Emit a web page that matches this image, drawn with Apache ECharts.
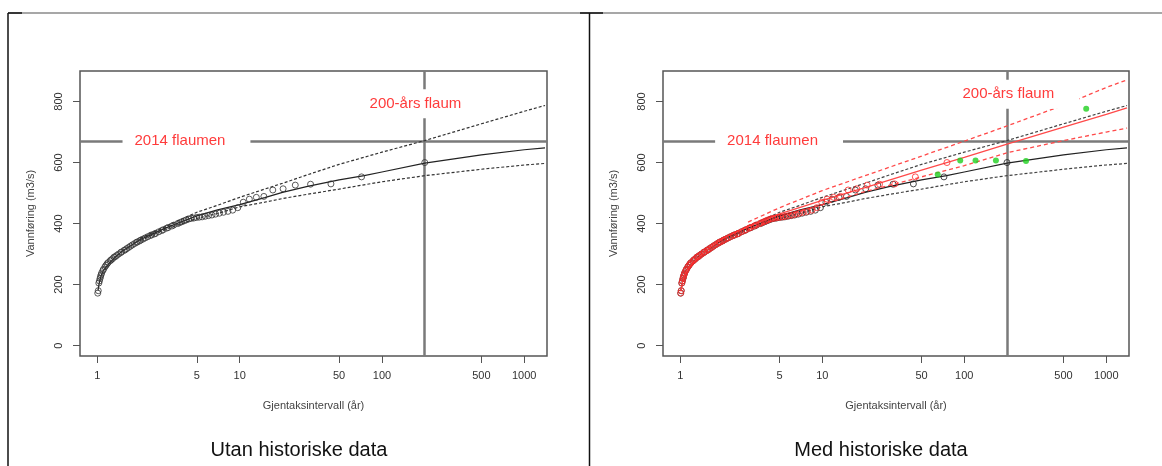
<!DOCTYPE html>
<html>
<head>
<meta charset="utf-8">
<script src="https://cdn.jsdelivr.net/npm/echarts@6/dist/echarts.min.js"></script>
<style>
html,body{margin:0;padding:0;background:#fff;}
#chart{width:1162px;height:466px;}
</style>
</head>
<body>
<div id="chart"></div>
<script>
// ---------- DATA ----------
// Return period ticks (years)
const X_TICKS = [1, 5, 10, 50, 100, 500, 1000];
const Y_TICKS = [0, 200, 400, 600, 800];

// Systematic annual maxima: return period (years) and discharge (m3/s)
const T_SYS = [200, 71.9, 43.8, 31.5, 24.6, 20.2, 17.1, 14.8, 13.1, 11.7, 10.6, 9.70, 8.93, 8.27, 7.70, 7.21, 6.78, 6.39, 6.04, 5.73, 5.20, 4.76, 4.39, 4.07, 3.79, 3.44, 3.15, 2.83, 2.57, 2.36, 2.17, 2.02, 1.88, 1.76, 1.66, 1.57, 1.48, 1.41, 1.34, 1.28, 1.23, 1.17, 1.13, 1.093, 1.062, 1.044, 1.024, 1.015, 1.006,
  5.45, 4.98, 4.57, 4.22, 3.93, 3.67, 3.34, 3.07, 2.91, 2.70, 2.52, 2.41, 2.26, 2.09, 1.98, 1.91, 1.82, 1.71, 1.61, 1.54, 1.46, 1.37, 1.31, 1.25, 1.19, 1.15, 1.104, 1.072, 1.052, 1.034];
const Q_SYS = [600, 553, 530, 529, 526, 514, 510, 489, 486, 480, 470, 452, 444, 440, 437, 434, 431, 428, 426, 424, 421, 418, 415, 409, 403, 395, 387, 377, 368, 361, 353, 346, 338, 330, 322, 314, 307, 300, 292, 285, 278, 268, 258, 246, 232, 220, 205, 180, 172,
  422, 420, 417, 412, 406, 400, 392, 385, 380, 373, 366, 363, 357, 349, 343, 340, 334, 326, 318, 312, 305, 296, 290, 281, 272, 263, 250, 238, 226, 212];
// Same floods, plotting positions when historical information is included
const T_SYS_H = [75.5, 45.2, 32.4, 25.3, 20.7, 17.5, 15.2, 13.4, 12.0, 10.8, 9.91, 9.13, 8.45, 7.87, 7.36, 6.92, 6.54, 6.18, 5.86, 5.57, 5.08, 4.66, 4.32, 4.01, 3.74, 3.41, 3.13, 2.82, 2.57, 2.36, 2.17, 2.02, 1.88, 1.76, 1.66, 1.57, 1.48, 1.41, 1.34, 1.28, 1.23, 1.17, 1.13, 1.093, 1.062, 1.044, 1.024, 1.015, 1.006,
  5.31, 4.87, 4.49, 4.15, 3.88, 3.63, 3.31, 3.05, 2.90, 2.69, 2.52, 2.41, 2.26, 2.09, 1.98, 1.91, 1.82, 1.71, 1.61, 1.54, 1.46, 1.37, 1.31, 1.25, 1.19, 1.15, 1.104, 1.072, 1.052, 1.034];
// Historical floods
const T_HIST = [65, 93.6, 120, 167, 272, 722];
const Q_HIST = [561, 607, 607, 607, 605, 776];

// Fitted curve without historical data (solid) and confidence limits (dotted)
const T_FIT = [1.01, 1.03, 1.06, 1.1, 1.2, 1.35, 1.5, 1.75, 2, 2.5, 3, 4, 5, 7, 10, 15, 20, 30, 50, 75, 100, 200, 500, 1000, 1400];
const Q_FIT = [180, 205, 228, 245, 268, 292, 310, 330, 348, 368, 385, 408, 425, 445, 462, 485, 502, 522, 543, 557, 569, 598, 625, 642, 648];
const T_CI = [2, 3, 5, 7, 10, 15, 20, 30, 50, 100, 200, 500, 1000, 1400];
const Q_UPPER = [352, 390, 437, 460, 486, 513, 532, 560, 594, 634, 672, 727, 768, 787];
const Q_LOWER = [344, 381, 417, 433, 455, 470, 482, 496, 513, 537, 557, 578, 592, 597];

// Fitted curve with historical data (red)
const T_FIT_H = [1.01, 1.03, 1.06, 1.1, 1.2, 1.5, 2, 3, 5, 10, 20, 50, 100, 200, 500, 1000, 1400];
const Q_FIT_H = [178, 203, 226, 243, 267, 310, 352, 390, 432, 476, 518, 575, 617, 660, 716, 758, 779];
const T_CI_H = [3, 5, 10, 20, 50, 100, 200, 500, 1000, 1400];
const Q_UPPER_H = [405, 452, 508, 557, 621, 670, 720, 788, 846, 871];
const Q_LOWER_H = [380, 420, 462, 505, 553, 590, 632, 672, 700, 713];

// Reference values
const FLOOD_2014 = 671;
const T_200 = 200;

// Annotation anchors (return period, discharge) for each panel
const ANNOT_LEFT = [[4.23, 671, '2014 flaumen'], [191, 793, '200-års flaum']];
const ANNOT_RIGHT = [[4.96, 671, '2014 flaumen'], [227, 824, '200-års flaum']];

const CAPTIONS = ['Utan historiske data', 'Med historiske data'];
const X_NAME = 'Gjentaksintervall (år)';
const Y_NAME = 'Vannføring (m3/s)';

// ---------- CHART ----------
const lg = v => Math.log10(v);
const pairs = (T, Q) => T.map((t, i) => [lg(t), Q[i]]);
const FONT = 'Arial, "Liberation Sans", sans-serif';
const RED = '#ff2b2b';

function xAxisFor(gi) {
  return {
    gridIndex: gi, type: 'value', min: -0.122, max: 3.16,
    axisLine: {show: false, onZero: false}, splitLine: {show: false},
    axisTick: {show: true, inside: false, length: 7, customValues: X_TICKS.map(lg), lineStyle: {color: '#555', width: 1}},
    axisLabel: {customValues: X_TICKS.map(lg), formatter: v => String(Math.round(Math.pow(10, v))),
      margin: 14, fontSize: 11, color: '#333', fontFamily: FONT},
    name: X_NAME, nameLocation: 'middle', nameGap: 44,
    nameTextStyle: {fontSize: 11, color: '#444', fontFamily: FONT}
  };
}
function yAxisFor(gi) {
  return {
    gridIndex: gi, type: 'value', min: -34, max: 900,
    axisLine: {show: false, onZero: false}, splitLine: {show: false},
    axisTick: {show: true, inside: false, length: 7, customValues: Y_TICKS, lineStyle: {color: '#555', width: 1}},
    axisLabel: {customValues: Y_TICKS, rotate: 90, margin: 16, fontSize: 11, color: '#333', fontFamily: FONT},
    name: Y_NAME, nameLocation: 'middle', nameGap: 44,
    nameTextStyle: {fontSize: 11, color: '#444', fontFamily: FONT}
  };
}
function lineSeries(gi, data, color, type, width, z) {
  return {type: 'line', xAxisIndex: gi, yAxisIndex: gi, data: data, showSymbol: false, symbol: 'none',
    silent: true, z: z || 3, lineStyle: {color: color, width: width, type: type}, animation: false};
}
function refSeries(gi) {
  return {type: 'line', xAxisIndex: gi, yAxisIndex: gi, data: [], silent: true, z: 2, animation: false,
    markLine: {symbol: 'none', silent: true, animation: false, z: 2, label: {show: false},
      lineStyle: {color: '#7a7a7a', width: 2.5, type: 'solid'},
      data: [{yAxis: FLOOD_2014}, {xAxis: lg(T_200)}]}};
}
function pointSeries(gi, data, stroke, fill, size, z) {
  return {type: 'scatter', xAxisIndex: gi, yAxisIndex: gi, data: data, symbol: 'circle', symbolSize: size,
    silent: true, z: z || 4, animation: false,
    itemStyle: {color: fill, borderColor: stroke, borderWidth: fill === 'rgba(0,0,0,0)' ? 1 : 0}};
}

const HOLLOW = 'rgba(0,0,0,0)';
const series = [
  // Left panel
  refSeries(0),
  lineSeries(0, pairs(T_FIT, Q_FIT), '#222', 'solid', 1.2),
  lineSeries(0, pairs(T_CI, Q_UPPER), '#333', [3, 2], 1.2),
  lineSeries(0, pairs(T_CI, Q_LOWER), '#333', [3, 2], 1.2),
  pointSeries(0, pairs(T_SYS, Q_SYS), '#333', HOLLOW, 6),
  // Right panel
  refSeries(1),
  lineSeries(1, pairs(T_FIT, Q_FIT), '#222', 'solid', 1.2),
  lineSeries(1, pairs(T_CI, Q_UPPER), '#444', [3, 2], 1.2),
  lineSeries(1, pairs(T_CI, Q_LOWER), '#444', [3, 2], 1.2),
  pointSeries(1, pairs(T_SYS, Q_SYS), '#222', HOLLOW, 6),
  lineSeries(1, pairs(T_FIT_H, Q_FIT_H), '#ff4a4a', 'solid', 1.3, 5),
  lineSeries(1, pairs(T_CI_H, Q_UPPER_H), '#ff4a4a', [4, 3], 1.3, 5),
  lineSeries(1, pairs(T_CI_H, Q_LOWER_H), '#ff4a4a', [4, 3], 1.3, 5),
  pointSeries(1, pairs(T_SYS_H, Q_SYS), RED, HOLLOW, 6, 6),
  pointSeries(1, pairs(T_HIST, Q_HIST), '#1fcf1f', '#1fcf1f', 6, 7)
];

const frame = [
  {type: 'line', shape: {x1: 8, y1: 13, x2: 1162, y2: 13}, style: {stroke: '#8a8a8a', lineWidth: 1.5}, silent: true},
  {type: 'line', shape: {x1: 8, y1: 13, x2: 22, y2: 13}, style: {stroke: '#111', lineWidth: 1.5}, silent: true},
  {type: 'line', shape: {x1: 580, y1: 13, x2: 603, y2: 13}, style: {stroke: '#111', lineWidth: 1.5}, silent: true},
  {type: 'line', shape: {x1: 8, y1: 13, x2: 8, y2: 466}, style: {stroke: '#111', lineWidth: 1.5}, silent: true},
  {type: 'line', shape: {x1: 589.5, y1: 13, x2: 589.5, y2: 466}, style: {stroke: '#111', lineWidth: 1.5}, silent: true},
  {type: 'text', x: 299, y: 450, silent: true,
    style: {text: CAPTIONS[0], align: 'center', verticalAlign: 'middle', fill: '#111', font: '20px ' + FONT}},
  {type: 'text', x: 881, y: 450, silent: true,
    style: {text: CAPTIONS[1], align: 'center', verticalAlign: 'middle', fill: '#111', font: '20px ' + FONT}}
];

const chart = echarts.init(document.getElementById('chart'), null, {renderer: 'canvas'});
chart.setOption({
  animation: false,
  backgroundColor: '#ffffff',
  grid: [
    {left: 80, top: 71, width: 467, height: 285, show: true, borderColor: '#555', borderWidth: 1.5, backgroundColor: 'transparent'},
    {left: 663, top: 71, width: 466, height: 285, show: true, borderColor: '#555', borderWidth: 1.5, backgroundColor: 'transparent'}
  ],
  xAxis: [xAxisFor(0), xAxisFor(1)],
  yAxis: [yAxisFor(0), yAxisFor(1)],
  series: series
});

// Annotation boxes placed through the axes' scales
const annot = [];
[[0, ANNOT_LEFT], [1, ANNOT_RIGHT]].forEach(function (pair) {
  pair[1].forEach(function (a) {
    const p = chart.convertToPixel({gridIndex: pair[0]}, [lg(a[0]), a[1]]);
    annot.push({type: 'text', x: p[0], y: p[1], z: 100, silent: true,
      style: {text: a[2], align: 'center', verticalAlign: 'middle', fill: '#ff3b3b', font: '15px ' + FONT,
        backgroundColor: '#ffffff', padding: [6, 25, 6, 12], lineHeight: 17}});
  });
});
chart.setOption({graphic: frame.concat(annot)});
</script>
</body>
</html>
